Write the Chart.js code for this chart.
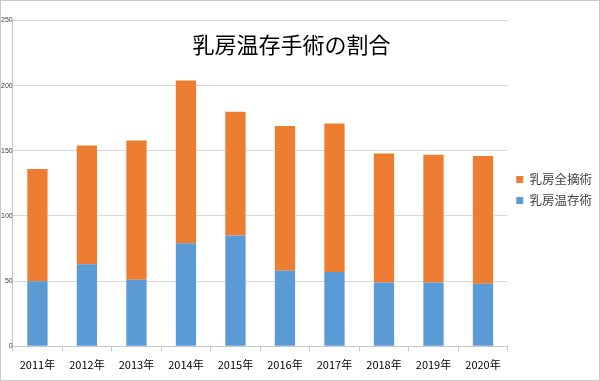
<!DOCTYPE html>
<html><head><meta charset="utf-8">
<script src="https://cdn.jsdelivr.net/npm/chart.js@4/dist/chart.umd.min.js"></script>
<style>
html,body{margin:0;padding:0;background:#fff;}
#wrap{position:relative;width:600px;height:381px;box-sizing:border-box;border:1px solid #c9c9c9;background:#fff;}
#c{display:block;}
</style></head>
<body>
<div id="wrap"><canvas id="c" width="598" height="379"></canvas></div>
<script>
const chartTitle = '乳房温存手術の割合';
const categories = ['2011年','2012年','2013年','2014年','2015年','2016年','2017年','2018年','2019年','2020年'];
const seriesNames = ['乳房温存術','乳房全摘術'];
const conserving = [50, 63, 51, 79, 85, 58, 57, 49, 49, 48];
const mastectomy = [86, 91, 107, 125, 95, 111, 114, 99, 98, 98];
const yTicks = [0, 50, 100, 150, 200, 250];

const titlePlugin = {
  id: 'overlayTitle',
  afterDraw(chart) {
    const ctx = chart.ctx;
    ctx.save();
    ctx.font = '22px "Noto Sans CJK JP"';
    ctx.fillStyle = '#000';
    ctx.textAlign = 'center';
    ctx.textBaseline = 'middle';
    ctx.fillText(chartTitle, 290.5, 44);
    ctx.restore();
  }
};

new Chart(document.getElementById('c'), {
  type: 'bar',
  data: {
    labels: categories,
    datasets: [
      {label: seriesNames[0], data: conserving, backgroundColor: '#5B9BD5', barPercentage: 0.41, categoryPercentage: 1},
      {label: seriesNames[1], data: mastectomy, backgroundColor: '#ED7D31', barPercentage: 0.41, categoryPercentage: 1}
    ]
  },
  options: {
    responsive: false,
    animation: false,
    layout: {padding: {left: 0, right: -3, top: 19.5, bottom: 1.5}},
    plugins: {
      title: {display: false},
      tooltip: {enabled: false},
      legend: {
        position: 'right',
        align: 'start',
        reverse: true,
        title: {display: true, text: '', font: {size: 12}, padding: {top: 129.8, bottom: 0}},
        labels: {
          boxWidth: 7, boxHeight: 7, padding: 8.5,
          color: '#404040',
          font: {family: '"Noto Sans CJK JP"', size: 12.5}
        }
      }
    },
    scales: {
      x: {
        stacked: true,
        grid: {display: true, drawOnChartArea: false, drawTicks: true, tickLength: 5, color: '#c8c8c8', offset: true},
        border: {color: '#c8c8c8'},
        ticks: {color: '#000', padding: 7, font: {family: '"Noto Sans CJK JP"', size: 11}}
      },
      y: {
        stacked: true,
        min: 0, max: 250,
        afterBuildTicks(scale) { scale.ticks = yTicks.map(v => ({value: v})); },
        grid: {color: '#d9d9d9', drawTicks: false},
        border: {color: '#c8c8c8'},
        ticks: {color: '#404040', padding: 0, font: {family: '"Liberation Sans"', size: 7}}
      }
    }
  },
  plugins: [titlePlugin]
});
</script>
</body></html>
